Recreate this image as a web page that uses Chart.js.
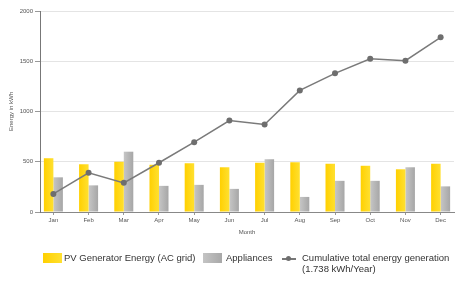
<!DOCTYPE html>
<html lang="en">
<head>
  <meta charset="UTF-8" />
  <title>Energy balance per month</title>
  <script src="https://cdn.jsdelivr.net/npm/chart.js"></script>
  <style>
    body { margin: 0; background: #fff; width: 458px; height: 285px; overflow: hidden;
      font-family: "Liberation Sans", Arial, sans-serif; }
    #wrap { position: relative; width: 458px; height: 240px; }
    .legend { position: absolute; left: 0; top: 0; width: 458px; height: 285px; font-size: 9.5px; color: #333; pointer-events: none; }
    .legend span { position: absolute; white-space: nowrap; }
    .sw { position: absolute; width: 19px; height: 10px; }
  </style>
</head>
<body>
  <div id="wrap"><canvas id="chart"></canvas></div>

  <div class="legend">
    <div class="sw" style="left:43px; top:253px; background:linear-gradient(90deg,#ffd000,#ffe030);"></div>
    <span style="left:64px; top:252px;">PV Generator Energy (AC grid)</span>
    <div class="sw" style="left:203px; top:253px; background:linear-gradient(90deg,#c4c4c4,#a8a8a8);"></div>
    <span style="left:226px; top:252px;">Appliances</span>
    <div style="position:absolute; left:282px; top:258px; width:14px; height:1.5px; background:#777;"></div>
    <div style="position:absolute; left:286px; top:256px; width:5px; height:5px; border-radius:50%; background:#6e6e6e;"></div>
    <span style="left:302px; top:252px;">Cumulative total energy generation</span>
    <span style="left:302px; top:263px;">(1.738 kWh/Year)</span>
  </div>

  <script>
    // Data
    const months = ['Jan', 'Feb', 'Mar', 'Apr', 'May', 'Jun', 'Jul', 'Aug', 'Sep', 'Oct', 'Nov', 'Dec'];
    const pvEnergy = [535, 475, 500, 470, 485, 445, 490, 495, 480, 460, 425, 480];
    const appliances = [345, 265, 600, 260, 270, 230, 525, 150, 310, 310, 445, 255];
    const cumulative = [180, 390, 290, 490, 695, 910, 870, 1210, 1380, 1525, 1505, 1738];
    const yTicks = [0, 500, 1000, 1500, 2000];

    const tickFont = { family: 'Liberation Sans', size: 6 };

    // horizontal shading for each bar
    function barFill(c0, c1, side) {
      return (ctx) => {
        const chart = ctx.chart;
        const x = chart.scales.x;
        if (!x || !chart.chartArea) return c0;
        const cx = x.getPixelForValue(ctx.dataIndex);
        const w = 9.6;
        const x0 = side < 0 ? cx - w : cx;
        const g = chart.ctx.createLinearGradient(x0, 0, x0 + w, 0);
        g.addColorStop(0, c0);
        g.addColorStop(1, c1);
        return g;
      };
    }

    new Chart(document.getElementById('chart'), {
      type: 'bar',
      data: {
        labels: months,
        datasets: [
          {
            type: 'line',
            label: 'Cumulative total energy generation (1.738 kWh/Year)',
            data: cumulative,
            borderColor: '#7a7a7a',
            borderWidth: 1.5,
            pointRadius: 3,
            pointBackgroundColor: '#6e6e6e',
            pointBorderWidth: 0,
            tension: 0,
            order: 0
          },
          {
            label: 'PV Generator Energy (AC grid)',
            data: pvEnergy,
            backgroundColor: barFill('#ffd000', '#ffe030', -1),
            order: 1
          },
          {
            label: 'Appliances',
            data: appliances,
            backgroundColor: barFill('#c6c6c6', '#a6a6a6', 1),
            order: 1
          }
        ]
      },
      options: {
        responsive: true,
        maintainAspectRatio: false,
        animation: false,
        layout: { padding: { top: 11, right: 0, left: 0, bottom: 0 } },
        datasets: { bar: { categoryPercentage: 0.54, barPercentage: 1.0 } },
        plugins: { legend: { display: false }, tooltip: { enabled: false } },
        scales: {
          x: {
            type: 'category',
            offset: true,
            grid: { display: true, drawOnChartArea: false, offset: false, tickLength: 3, color: '#999' },
            border: { color: '#888' },
            ticks: { font: tickFont, color: '#555', padding: 2, maxRotation: 0, autoSkip: false },
            title: { display: true, text: 'Month', font: tickFont, color: '#555', padding: { top: 0, bottom: 4 } },
            afterBuildTicks: (s) => { s._startValue = -0.38; s._valueRange = months.length - 0.24; },
            afterFit: (s) => { s.height = 28; }
          },
          y: {
            min: 0,
            max: 2000,
            afterBuildTicks: (s) => { s.ticks = yTicks.map(v => ({ value: v })); },
            grid: { color: '#e4e4e4', tickLength: 5, tickColor: '#999' },
            border: { color: '#777' },
            ticks: { font: tickFont, color: '#555', padding: 2, callback: (v) => String(v) },
            title: { display: true, text: 'Energy in kWh', font: tickFont, color: '#555', padding: { top: 8, bottom: 0 } },
            afterFit: (s) => { s.width = 40; }
          }
        }
      }
    });
  </script>
</body>
</html>
